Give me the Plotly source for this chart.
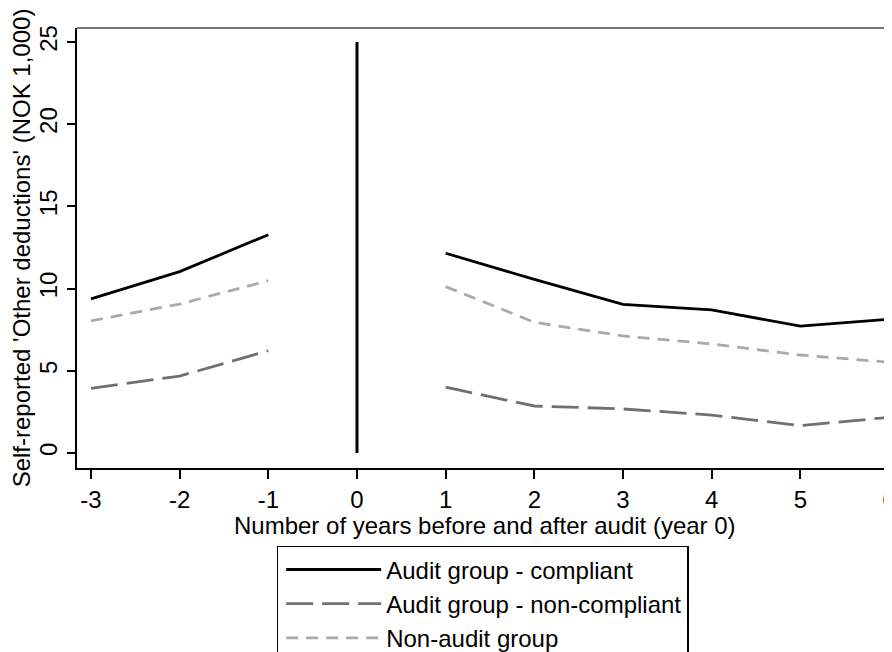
import plotly.graph_objects as go

years = [-3, -2, -1, 1, 2, 3, 4, 5, 6]
compliant = [9.37, 11.03, 13.28, 12.15, 10.56, 9.04, 8.70, 7.72, 8.13]
non_compliant = [3.93, 4.68, 6.22, 4.00, 2.86, 2.68, 2.31, 1.66, 2.17]
non_audit = [8.03, 9.06, 10.48, 10.12, 7.95, 7.12, 6.63, 5.96, 5.52]
audit_year_x = [0, 0]
audit_year_y = [0, 25]
x_ticks = [-3, -2, -1, 0, 1, 2, 3, 4, 5, 6]
x_tick_labels = ["-3", "-2", "-1", "0", "1", "2", "3", "4", "5", "6"]
y_ticks = [0, 5, 10, 15, 20, 25]
y_tick_labels = ["0", "5", "10", "15", "20", "25"]

pre = slice(0, 3)
post = slice(3, 9)

FONT = "Liberation Sans, Arial, sans-serif"
FS = 24

fig = go.Figure()

def add_series(name, vals, color, dash, width):
    fig.add_trace(go.Scatter(x=years[pre], y=vals[pre], mode="lines", name=name,
                             legendgroup=name, showlegend=True,
                             line=dict(color=color, width=width, dash=dash)))
    fig.add_trace(go.Scatter(x=years[post], y=vals[post], mode="lines", name=name,
                             legendgroup=name, showlegend=False,
                             line=dict(color=color, width=width, dash=dash)))

add_series("Audit group - compliant", compliant, "#000000", "solid", 2.8)
add_series("Audit group - non-compliant", non_compliant, "#707070", "27px,9px", 2.8)
add_series("Non-audit group", non_audit, "#aaaaaa", "12px,8px", 2.8)

fig.add_trace(go.Scatter(x=audit_year_x, y=audit_year_y, mode="lines", showlegend=False,
                         line=dict(color="#000000", width=3)))

fig.add_shape(type="line", xref="paper", yref="paper", x0=0, x1=1, y0=1, y1=1,
              line=dict(color="#777777", width=2))

fig.add_annotation(text="Number of years before and after audit (year 0)",
                   xref="paper", yref="paper", x=0.5, y=-0.131,
                   xanchor="center", yanchor="middle", showarrow=False,
                   font=dict(size=FS, family=FONT, color="#000"))

# page body has an 8px default margin; margins compensate so the plot sits where the reference has it
fig.update_layout(
    width=892, height=652,
    margin=dict(l=69, r=8, t=20, b=192, autoexpand=False),
    paper_bgcolor="white", plot_bgcolor="white",
    font=dict(family=FONT, size=FS, color="#000000"),
    xaxis=dict(range=[-3.158, 6.034], tickvals=x_ticks, ticktext=x_tick_labels,
               ticks="outside", ticklen=9,
               tickwidth=1.5, tickcolor="#000", showline=True, linecolor="#000",
               linewidth=2, showgrid=False, zeroline=False,
               tickfont=dict(size=FS)),
    yaxis=dict(range=[-0.912, 25.85], tickvals=y_ticks, ticktext=y_tick_labels,
               ticks="outside", ticklen=8,
               tickwidth=1.5, tickcolor="#000", showline=True, linecolor="#000",
               linewidth=2, showgrid=False, zeroline=False, tickangle=-90,
               tickfont=dict(size=FS),
               title=dict(text="Self-reported 'Other deductions' (NOK 1,000)",
                          font=dict(size=FS), standoff=6)),
    legend=dict(x=0.245, y=-0.177, xanchor="left", yanchor="top",
                bgcolor="white", bordercolor="#000", borderwidth=1.5,
                font=dict(size=FS), itemwidth=95, indentation=3, tracegroupgap=0),
    showlegend=True,
)

fig.write_html("out.html")
